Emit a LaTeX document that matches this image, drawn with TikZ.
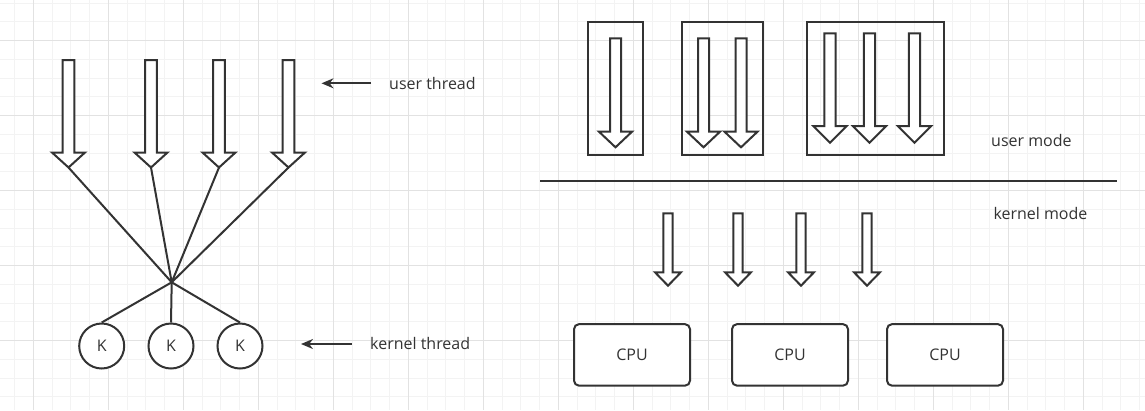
\documentclass[tikz,border=0pt]{standalone}
\usepackage{fontspec}
\setmainfont{Open Sans}
\usetikzlibrary{arrows.meta}
\definecolor{ink}{HTML}{333333}
\definecolor{gridminor}{HTML}{F3F3F3}
\definecolor{gridmajor}{HTML}{E2E2E2}
% hollow down arrow: x, top, tip, half shaft, half head, head length
\newcommand{\hollowdown}[6]{%
  \draw[thread] (#1-#4,#2) -- (#1+#4,#2) -- (#1+#4,#3-#6) -- (#1+#5,#3-#6)
    -- (#1,#3) -- (#1-#5,#3-#6) -- (#1-#4,#3-#6) -- cycle;}

\begin{document}
\begin{tikzpicture}[x=1pt,y=-1pt,
   thread/.style={draw=ink,fill=white,line width=2pt,line join=miter},
   link/.style={ink,line width=2pt},
   pointer/.style={ink,line width=2pt,-{Stealth[length=12pt,width=10pt]}},
   frame/.style={draw=ink,line width=2pt,inner sep=0pt},
   cpu/.style={draw=ink,fill=white,line width=2pt,rounded corners=5pt,
     minimum width=116pt,minimum height=61.5pt,inner sep=0pt},
   kern/.style={circle,draw=ink,fill=white,line width=2pt,minimum size=45pt,inner sep=0pt},
   lbl/.style={text=ink,font=\fontsize{16}{19}\selectfont,inner sep=0pt}]
  \useasboundingbox[fill=white] (0,0) rectangle (1145,410);
  % background grid
  \foreach \i in {0,...,61}{\draw[gridminor,line width=1pt] ({14.58+18.75*\i},0) -- ++(0,410);}
  \foreach \i in {0,...,21}{\draw[gridminor,line width=1pt] (0,{3.2+18.75*\i}) -- ++(1145,0);}
  \foreach \i in {0,...,14}{\draw[gridmajor,line width=1pt] ({33.33+75*\i},0) -- ++(0,410);}
  \foreach \i in {0,...,4}{\draw[gridmajor,line width=1pt] (0,{40.7+75*\i}) -- ++(1145,0);}

  % many-to-many: user threads onto kernel threads
  \coordinate (hub) at (171.7,282.3);
  \node[kern] (k1) at (101.7,346){\fontsize{16}{19}\selectfont\color{ink}K};
  \node[kern] (k2) at (171,346){\fontsize{16}{19}\selectfont\color{ink}K};
  \node[kern] (k3) at (240,346){\fontsize{16}{19}\selectfont\color{ink}K};
  \foreach \x [count=\i] in {68.5,151,219,288.5}{\coordinate (u\i) at (\x,167.5);}
  \foreach \i in {1,...,4}{\draw[link] (u\i) -- (hub);}
  \foreach \i in {1,2,3}{\draw[link] (hub) -- (k\i.north);}
  \foreach \x in {68.5,151,219,288.5}{\hollowdown{\x}{60}{167.5}{5.8}{16.5}{15}}

  % labels on the left
  \node[lbl,anchor=base west] (ut) at (389,89.5){user thread};
  \coordinate (uta) at (371,83.3); \coordinate (utb) at (321.5,83.3);
  \draw[pointer] (uta) -- (utb);
  \node[lbl,anchor=base west] (kt) at (370,349.5){kernel thread};
  \coordinate (kta) at (351.7,344); \coordinate (ktb) at (301,344);
  \draw[pointer] (kta) -- (ktb);

  % processes in user mode
  \node[frame,minimum width=54.4pt,minimum height=133.3pt] (p1) at (615.5,88.35){};
  \node[frame,minimum width=80.4pt,minimum height=133.3pt] (p2) at (722.5,88.35){};
  \node[frame,minimum width=136.7pt,minimum height=133.3pt] (p3) at (875.65,88.35){};
  \hollowdown{615.5}{38.3}{147.3}{5.5}{16.5}{15.6}
  \foreach \x in {703.5,741}{\hollowdown{\x}{38.3}{147.3}{5.5}{16.5}{15.6}}
  \foreach \x in {830,869.5,914.5}{\hollowdown{\x}{33.3}{142.7}{5.7}{16.5}{16.5}}

  % mode boundary
  \coordinate (la) at (540,181); \coordinate (lb) at (1116.7,181);
  \draw[link] (la) -- (lb);
  \node[lbl,anchor=base west] (um) at (991,146.7){user mode};
  \node[lbl,anchor=base west] (km) at (993.3,219){kernel mode};

  % kernel threads onto CPUs
  \foreach \x in {668,738,801,867}{\hollowdown{\x}{213.3}{285.7}{4.6}{13}{13.4}}
  \node[cpu] (c1) at (632,354.9){\fontsize{16}{19}\selectfont\color{ink}CPU};
  \node[cpu] (c2) at (790,354.9){\fontsize{16}{19}\selectfont\color{ink}CPU};
  \node[cpu] (c3) at (945,354.9){\fontsize{16}{19}\selectfont\color{ink}CPU};
\end{tikzpicture}
\end{document}
